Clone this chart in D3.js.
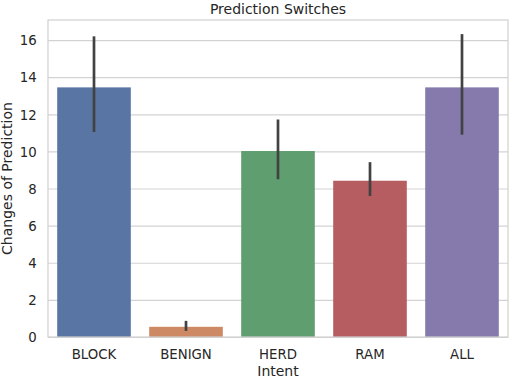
<!DOCTYPE html>
<html><head><meta charset="utf-8">
<script src="https://cdn.jsdelivr.net/npm/d3@7"></script>
<style>body{margin:0;background:#fff}svg{display:block}text{font-family:"DejaVu Sans",sans-serif;fill:#262626}</style>
</head><body><svg id="c" width="512" height="379"></svg>
<script>
const categories = ["BLOCK","BENIGN","HERD","RAM","ALL"];
const means = [13.45, 0.55, 10.02, 8.42, 13.45];
const ciLow = [11.05, 0.33, 8.5, 7.6, 10.9];
const ciHigh = [16.2, 0.87, 11.72, 9.42, 16.32];
const colors = ["#5875a4","#cc8963","#5f9e6e","#b55d60","#857aab"];
const yTicks = [0,2,4,6,8,10,12,14,16];

const svg = d3.select("#c");
const m = {l:48, r:4, t:20, b:42};
const W = 512, H = 379;
const x = d3.scaleBand().domain(categories).range([m.l, W-m.r]).paddingInner(0.2).paddingOuter(0.1);
const y = d3.scaleLinear().domain([0, 17.08]).range([H-m.b, m.t]);

// grid
const yAxis = d3.axisLeft(y).tickValues(yTicks).tickSize(-(W-m.l-m.r)).tickPadding(12);
const gy = svg.append("g").attr("transform",`translate(${m.l},0)`).call(yAxis);
gy.select(".domain").remove();
gy.selectAll(".tick line").attr("stroke","#d3d3d3").attr("stroke-width",1.2);
gy.selectAll(".tick text").attr("font-size",13.3).style("fill","#262626").attr("x",-11.3).attr("dy","0.36em");

const xAxis = d3.axisBottom(x).tickSize(0).tickPadding(12);
const gx = svg.append("g").attr("transform",`translate(0,${H-m.b})`).call(xAxis);
gx.select(".domain").remove();
gx.selectAll(".tick text").attr("font-size",13.3).style("fill","#262626").attr("y",22).attr("dy","0");

// bars
svg.selectAll("rect.bar").data(categories).join("rect").attr("class","bar")
  .attr("x", d=>x(d)).attr("width", x.bandwidth())
  .attr("y", (d,i)=>y(means[i])).attr("height",(d,i)=>y(0)-y(means[i]))
  .attr("fill",(d,i)=>colors[i]);

// error bars
svg.selectAll("line.err").data(categories).join("line").attr("class","err")
  .attr("x1", d=>x(d)+x.bandwidth()/2).attr("x2", d=>x(d)+x.bandwidth()/2)
  .attr("y1",(d,i)=>y(ciLow[i])).attr("y2",(d,i)=>y(ciHigh[i]))
  .attr("stroke","#424242").attr("stroke-width",2.7);

// frame
svg.append("rect").attr("x",m.l).attr("y",m.t).attr("width",W-m.l-m.r).attr("height",H-m.b-m.t)
  .attr("fill","none").attr("stroke","#d0d0d0").attr("stroke-width",1.2);

svg.append("text").attr("x",(m.l+W-m.r)/2).attr("y",14).attr("text-anchor","middle").attr("font-size",14).text("Prediction Switches");
svg.append("text").attr("x",(m.l+W-m.r)/2).attr("y",376).attr("text-anchor","middle").attr("font-size",14).text("Intent");
svg.append("text").attr("transform",`translate(12,${(m.t+H-m.b)/2}) rotate(-90)`).attr("text-anchor","middle").attr("font-size",14).text("Changes of Prediction");
</script></body></html>
